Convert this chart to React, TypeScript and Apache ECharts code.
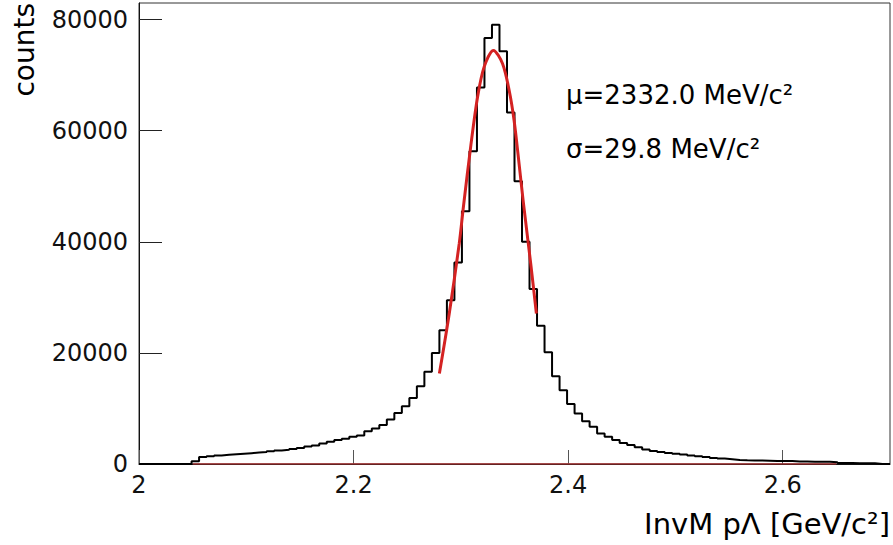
import React, { useEffect, useRef } from "react";
import * as echarts from "echarts";

// Histogram: 100 bins from 2.0 to 2.7 GeV/c^2
const histMin = 2.0;
const histMax = 2.7;
const binCounts: number[] = [
  0, 0, 0, 0, 0, 0, 0, 500, 1260, 1400,
  1550, 1650, 1750, 1850, 1950, 2050, 2150, 2300, 2450, 2550,
  2700, 2900, 3150, 3350, 3700, 4000, 4300, 4550, 4900, 5150,
  5900, 6400, 7000, 8000, 9200, 10400, 11900, 14000, 16600, 20000,
  24100, 29500, 36300, 45500, 56300, 67800, 76700, 79100, 74300, 63300,
  50900, 40000, 31500, 24900, 20100, 15800, 13300, 10800, 9100, 7700,
  6700, 5500, 4900, 4300, 3800, 3400, 3000, 2600, 2350, 2150,
  1980, 1850, 1700, 1520, 1390, 1260, 1100, 970, 850, 730,
  670, 620, 610, 600, 550, 540, 530, 440, 430, 420,
  410, 400, 320, 170, 160, 150, 140, 120, 0, 0,
];

// Gaussian fit curve (x in GeV/c^2, counts)
const fitX: number[] = [2.28, 2.2892, 2.2985, 2.3025, 2.3094, 2.3155, 2.3217, 2.3304, 2.3388, 2.345, 2.3496, 2.3543, 2.358, 2.3651, 2.3704];
const fitY: number[] = [16300, 27100, 39700, 46500, 57500, 66000, 71500, 74470, 72100, 67300, 61900, 54000, 47500, 36100, 27100];

// flat background function drawn at zero
const bgX: number[] = [2.05, 2.65];
const bgY: number[] = [0, 0];

const xTicks = { min: 2, max: 2.7, interval: 0.2 };
const yTicks = { min: 0, max: 83000, interval: 20000 };

const muText = "μ=2332.0 MeV/c²";
const sigmaText = "σ=29.8 MeV/c²";
const xTitle = "InvM pΛ [GeV/c²]";
const yTitle = "counts";

const FONT = '"DejaVu Sans", "Liberation Sans", sans-serif';

export default function App() {
  const ref = useRef<HTMLDivElement>(null);
  useEffect(() => {
    document.body.style.margin = "0";
    if (!ref.current) return;
    const chart = echarts.init(ref.current, undefined, { renderer: "svg" });
    const nb = binCounts.length;
    const w = (histMax - histMin) / nb;
    const histData: number[][] = binCounts.map((c, k) => [Number((histMin + k * w).toFixed(5)), c]);
    histData.push([histMax, binCounts[nb - 1]]);
    const fitData = fitX.map((x, i) => [x, fitY[i]]);
    const bgData = bgX.map((x, i) => [x, bgY[i]]);

    chart.setOption({
      animation: false,
      backgroundColor: "#ffffff",
      grid: {
        left: 139,
        right: 3,
        top: 3,
        bottom: 81,
        show: true,
        borderColor: "#333",
        borderWidth: 1,
        backgroundColor: "transparent",
      },
      xAxis: {
        type: "value",
        min: xTicks.min,
        max: xTicks.max,
        interval: xTicks.interval,
        axisLine: { show: true, lineStyle: { color: "#111", width: 1 } },
        axisTick: { show: true, inside: true, length: 14, lineStyle: { color: "#555" } },
        splitLine: { show: false },
        axisLabel: {
          fontSize: 24,
          fontFamily: FONT,
          color: "#111",
          margin: 9,
          showMaxLabel: false,
          formatter: (v: number) => (Math.abs(v - 2) < 1e-9 ? "2" : v.toFixed(1)),
        },
      },
      yAxis: {
        type: "value",
        min: yTicks.min,
        max: yTicks.max,
        interval: yTicks.interval,
        axisLine: { show: true, lineStyle: { color: "#111", width: 1 } },
        axisTick: { show: true, inside: true, length: 23, lineStyle: { color: "#222" } },
        splitLine: { show: false },
        axisLabel: {
          fontSize: 24,
          fontFamily: FONT,
          color: "#111",
          margin: 11,
          showMaxLabel: false,
          formatter: (v: number) => String(Math.round(v)),
        },
      },
      series: [
        {
          type: "line",
          name: "background",
          data: bgData,
          symbol: "none",
          lineStyle: { color: "#a83030", width: 1.5 },
          z: 1,
        },
        {
          type: "line",
          name: "histogram",
          data: histData,
          step: "end",
          symbol: "none",
          lineStyle: { color: "#000", width: 2 },
          z: 2,
        },
        {
          type: "line",
          name: "fit",
          data: fitData,
          smooth: 0.3,
          symbol: "none",
          lineStyle: { color: "#d42222", width: 3 },
          z: 3,
        },
      ],
      graphic: [
        {
          type: "text",
          x: 24,
          y: 3,
          rotation: Math.PI / 2,
          style: {
            text: yTitle,
            font: `28px ${FONT}`,
            fill: "#000",
            align: "right",
            textAlign: "right",
            verticalAlign: "middle",
            textVerticalAlign: "middle",
          },
        },
        {
          type: "text",
          x: 890,
          y: 524,
          style: {
            text: xTitle,
            font: `29px ${FONT}`,
            fill: "#000",
            align: "right",
            textAlign: "right",
            verticalAlign: "middle",
            textVerticalAlign: "middle",
          },
        },
        {
          type: "text",
          x: 566,
          y: 95,
          style: {
            text: muText,
            font: `26px ${FONT}`,
            fill: "#000",
            align: "left",
            textAlign: "left",
            verticalAlign: "middle",
            textVerticalAlign: "middle",
          },
        },
        {
          type: "text",
          x: 566,
          y: 149,
          style: {
            text: sigmaText,
            font: `26px ${FONT}`,
            fill: "#000",
            align: "left",
            textAlign: "left",
            verticalAlign: "middle",
            textVerticalAlign: "middle",
          },
        },
      ],
    });
    return () => chart.dispose();
  }, []);
  return <div ref={ref} style={{ width: 893, height: 545 }} />;
}
